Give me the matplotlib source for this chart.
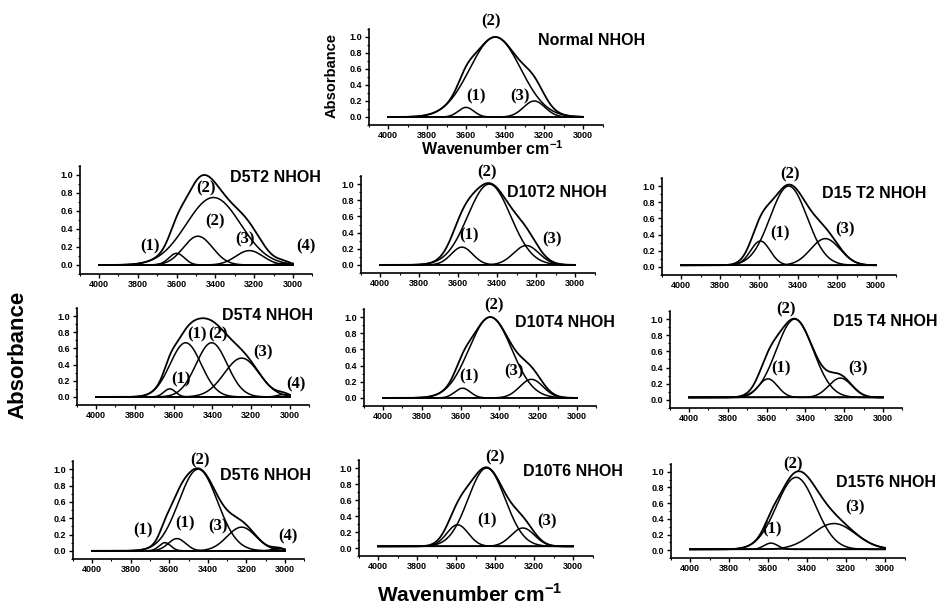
import numpy as np
import matplotlib
matplotlib.use('Agg')
import matplotlib.pyplot as plt
from matplotlib.ticker import MultipleLocator

plt.rcParams.update({
    'font.family': 'Liberation Sans',
    'font.weight': 'bold',
    'mathtext.fontset': 'custom',
    'mathtext.rm': 'Liberation Sans:bold',
    'mathtext.bf': 'Liberation Sans:bold',
    'axes.linewidth': 1.2,
})

# ── Fitted band components: centre (cm-1), height, sigma (cm-1), baseline ──
NORMAL_CENTERS = [3600, 3450, 3250]
NORMAL_HEIGHTS = [0.12, 1.00, 0.20]
NORMAL_WIDTHS = [40, 130, 55]
NORMAL_BASE = 0.0

D5T2_CENTERS = [3600, 3490, 3410, 3225, 3050]
D5T2_HEIGHTS = [0.13, 0.32, 0.75, 0.16, 0.02]
D5T2_WIDTHS = [40, 75, 140, 70, 30]
D5T2_BASE = 0.0

D10T2_CENTERS = [3580, 3440, 3250]
D10T2_HEIGHTS = [0.22, 1.00, 0.24]
D10T2_WIDTHS = [55, 110, 65]
D10T2_BASE = 0.0

D15T2_CENTERS = [3593, 3448, 3260]
D15T2_HEIGHTS = [0.30, 0.98, 0.33]
D15T2_WIDTHS = [50, 95, 75]
D15T2_BASE = 0.02

D5T4_CENTERS = [3620, 3538, 3404, 3249, 3034]
D5T4_HEIGHTS = [0.10, 0.67, 0.67, 0.48, 0.03]
D5T4_WIDTHS = [30, 80, 80, 90, 30]
D5T4_BASE = 0.0

D10T4_CENTERS = [3590, 3447, 3235]
D10T4_HEIGHTS = [0.12, 1.00, 0.23]
D10T4_WIDTHS = [40, 110, 60]
D10T4_BASE = 0.0

D15T4_CENTERS = [3593, 3455, 3220]
D15T4_HEIGHTS = [0.23, 0.97, 0.24]
D15T4_WIDTHS = [50, 95, 60]
D15T4_BASE = 0.03

D5T6_CENTERS = [3622, 3560, 3450, 3225, 3035]
D5T6_HEIGHTS = [0.10, 0.15, 1.00, 0.29, 0.03]
D5T6_WIDTHS = [30, 45, 100, 75, 30]
D5T6_BASE = 0.0

D10T6_CENTERS = [3592, 3443, 3257]
D10T6_HEIGHTS = [0.27, 0.98, 0.23]
D10T6_WIDTHS = [55, 95, 60]
D10T6_BASE = 0.02

D15T6_CENTERS = [3585, 3456, 3262]
D15T6_HEIGHTS = [0.08, 0.92, 0.33]
D15T6_WIDTHS = [35, 100, 110]
D15T6_BASE = 0.01

TITLES = ['Normal NHOH', 'D5T2 NHOH', 'D10T2 NHOH', 'D15 T2 NHOH',
          'D5T4 NHOH', 'D10T4 NHOH', 'D15 T4 NHOH',
          'D5T6 NHOH', 'D10T6 NHOH', 'D15T6 NHOH']

# peak label annotations (x, y, text) in data coordinates
LABELS = [
    [(3470, 1.19, '(2)'), (3547, 0.26, '(1)'), (3325, 0.26, '(3)')],
    [(3447, 0.85, '(2)'), (3404, 0.48, '(2)'), (3739, 0.21, '(1)'),
     (3249, 0.29, '(3)'), (2931, 0.21, '(4)')],
    [(3453, 1.14, '(2)'), (3542, 0.36, '(1)'), (3120, 0.31, '(3)')],
    [(3439, 1.15, '(2)'), (3491, 0.42, '(1)'), (3157, 0.47, '(3)')],
    [(3481, 0.77, '(1)'), (3369, 0.77, '(2)'), (3564, 0.22, '(1)'),
     (3137, 0.55, '(3)'), (2969, 0.16, '(4)')],
    [(3430, 1.15, '(2)'), (3558, 0.27, '(1)'), (3326, 0.33, '(3)')],
    [(3498, 1.12, '(2)'), (3524, 0.39, '(1)'), (3129, 0.39, '(3)')],
    [(3440, 1.11, '(2)'), (3734, 0.25, '(1)'), (3518, 0.33, '(1)'),
     (3345, 0.30, '(3)'), (2983, 0.18, '(4)')],
    [(3400, 1.13, '(2)'), (3443, 0.35, '(1)'), (3134, 0.33, '(3)')],
    [(3473, 1.10, '(2)'), (3581, 0.26, '(1)'), (3156, 0.54, '(3)')],
]
TITLE_POS = [(3230, 0.96), (3325, 0.97), (3350, 0.89), (3277, 0.91),
             (3352, 1.01), (3318, 0.93), (3258, 0.97),
             (3337, 0.92), (3254, 0.96), (3250, 0.87)]

PEAKS = [
    (NORMAL_CENTERS, NORMAL_HEIGHTS, NORMAL_WIDTHS, NORMAL_BASE),
    (D5T2_CENTERS, D5T2_HEIGHTS, D5T2_WIDTHS, D5T2_BASE),
    (D10T2_CENTERS, D10T2_HEIGHTS, D10T2_WIDTHS, D10T2_BASE),
    (D15T2_CENTERS, D15T2_HEIGHTS, D15T2_WIDTHS, D15T2_BASE),
    (D5T4_CENTERS, D5T4_HEIGHTS, D5T4_WIDTHS, D5T4_BASE),
    (D10T4_CENTERS, D10T4_HEIGHTS, D10T4_WIDTHS, D10T4_BASE),
    (D15T4_CENTERS, D15T4_HEIGHTS, D15T4_WIDTHS, D15T4_BASE),
    (D5T6_CENTERS, D5T6_HEIGHTS, D5T6_WIDTHS, D5T6_BASE),
    (D10T6_CENTERS, D10T6_HEIGHTS, D10T6_WIDTHS, D10T6_BASE),
    (D15T6_CENTERS, D15T6_HEIGHTS, D15T6_WIDTHS, D15T6_BASE),
]

# axes boxes in pixels: left, right, top, bottom
BOXES = [
    (368.5, 602.5, 29, 125),
    (79.6, 312.4, 166, 274), (360.5, 594.5, 176, 273), (661.5, 895.5, 178, 275),
    (76.6, 309.4, 308, 405), (363.6, 596.4, 309, 406), (669.6, 902.4, 311, 408),
    (72.7, 304.3, 461, 559), (358.5, 592.5, 460, 556), (670.5, 904.5, 464, 558),
]

W, H = 948, 610
fig = plt.figure(figsize=(W / 100, H / 100), dpi=100)

wn = np.linspace(4000, 3000, 601)

for i, ((cs, hs, ws, base), (l, r, t, b)) in enumerate(zip(PEAKS, BOXES)):
    ax = fig.add_axes([l / W, 1 - b / H, (r - l) / W, (b - t) / H])
    total = np.zeros_like(wn)
    ax.plot(wn, np.full_like(wn, base), color='black', lw=1.1)
    for c, h, w in zip(cs, hs, ws):
        comp = h * np.exp(-(wn - c) ** 2 / (2 * w ** 2))
        total += comp
        ax.plot(wn, base + comp, color='black', lw=1.1)
    ax.plot(wn, base + total, color='black', lw=1.3)

    ax.set_xlim(4100, 2900)
    ax.set_ylim(-0.1, 1.1)
    ax.set_yticks([0, 0.2, 0.4, 0.6, 0.8, 1.0])
    ax.set_xticks([4000, 3800, 3600, 3400, 3200, 3000])
    ax.xaxis.set_minor_locator(MultipleLocator(100))
    ax.yaxis.set_minor_locator(MultipleLocator(0.1))
    ax.tick_params(which='major', direction='out', length=3, width=1,
                   labelsize=6.5, pad=1.5)
    ax.tick_params(which='minor', direction='out', length=1.5, width=0.8)
    for lab in ax.get_xticklabels() + ax.get_yticklabels():
        lab.set_fontweight('bold')
    ax.yaxis.set_major_formatter(plt.FuncFormatter(lambda v, p: f'{v:.1f}'))
    ax.spines['top'].set_visible(False)
    ax.spines['right'].set_visible(False)
    ax.patch.set_alpha(0)

    for x, y, s in LABELS[i]:
        ax.text(x, y, s, ha='center', va='center', fontsize=12,
                family='Liberation Serif', fontweight='bold', clip_on=False)
    tx, ty = TITLE_POS[i]
    ax.text(tx, ty, TITLES[i], ha='left', va='center', fontsize=11.5,
            fontweight='bold', clip_on=False)

    if i == 0:
        fig.text(332 / W, 1 - 76 / H, 'Absorbance', rotation=90, ha='center',
                 va='center', fontsize=10.5, fontweight='bold')
        fig.text(492 / W, 1 - 149 / H, r'Wavenumber cm$^{-1}$', ha='center',
                 va='center', fontsize=11.5, fontweight='bold')

fig.text(18 / W, 1 - 355 / H, 'Absorbance', rotation=90, ha='center',
         va='center', fontsize=16, fontweight='bold')
fig.text(470 / W, 1 - 594 / H, r'Wavenumber cm$^{-1}$', ha='center',
         va='center', fontsize=15, fontweight='bold')

fig.savefig('out.png', dpi=100)
